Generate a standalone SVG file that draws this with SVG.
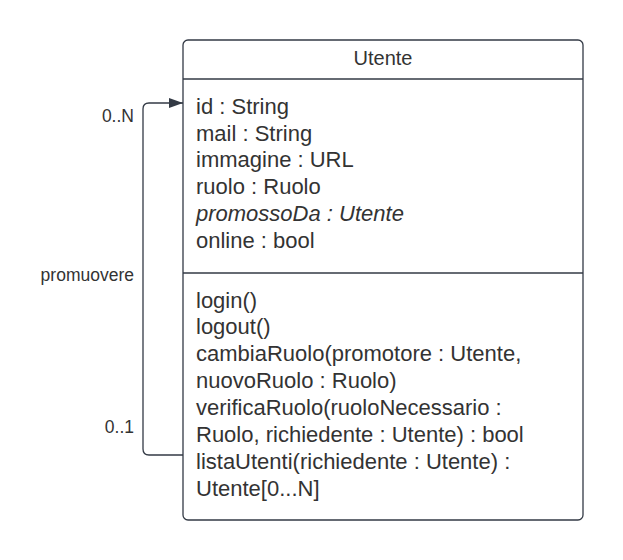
<svg xmlns="http://www.w3.org/2000/svg" width="623" height="560" viewBox="0 0 623 560">
<defs>
<style>
.t{font-family:"Liberation Sans",Arial,sans-serif;font-size:22px;fill:#333}
.l{font-family:"Liberation Sans",Arial,sans-serif;font-size:17.5px;fill:#333}
.ln{stroke:#333a45;stroke-width:1.3;fill:none}
</style>
<marker id="ah" viewBox="0 0 14 10" refX="14" refY="5" markerWidth="14" markerHeight="10" markerUnits="userSpaceOnUse" orient="auto"><path d="M0,0 L14,5 L0,10 z" fill="#333a45"/></marker>
</defs>
<rect width="623" height="560" fill="#fff"/>
<g id="connectors">
<path class="ln" d="M183,455 H149 Q143,455 143,449 V109 Q143,103 149,103 H183" marker-end="url(#ah)"/>
<text class="l" x="134" y="122" text-anchor="end">0..N</text>
<text class="l" x="134" y="281" text-anchor="end">promuovere</text>
<text class="l" x="134" y="433" text-anchor="end">0..1</text>
</g>
<g id="Utente">
<rect class="ln" x="183" y="40" width="400" height="480" rx="5" fill="#fff"/>
<line class="ln" x1="183" y1="79" x2="583" y2="79"/>
<line class="ln" x1="183" y1="273" x2="583" y2="273"/>
<text class="t" x="383" y="65" text-anchor="middle" style="font-size:20px">Utente</text>
<text class="t" x="196" y="114">id : String</text>
<text class="t" x="196" y="141">mail : String</text>
<text class="t" x="196" y="167">immagine : URL</text>
<text class="t" x="196" y="194">ruolo : Ruolo</text>
<text class="t" x="196" y="221" font-style="italic">promossoDa : Utente</text>
<text class="t" x="196" y="248">online : bool</text>
<text class="t" x="196" y="308">login()</text>
<text class="t" x="196" y="334">logout()</text>
<text class="t" x="196" y="361">cambiaRuolo(promotore : Utente,</text>
<text class="t" x="196" y="388">nuovoRuolo : Ruolo)</text>
<text class="t" x="196" y="415">verificaRuolo(ruoloNecessario :</text>
<text class="t" x="196" y="442">Ruolo, richiedente : Utente) : bool</text>
<text class="t" x="196" y="469">listaUtenti(richiedente : Utente) :</text>
<text class="t" x="196" y="496">Utente[0...N]</text>
</g>
</svg>
